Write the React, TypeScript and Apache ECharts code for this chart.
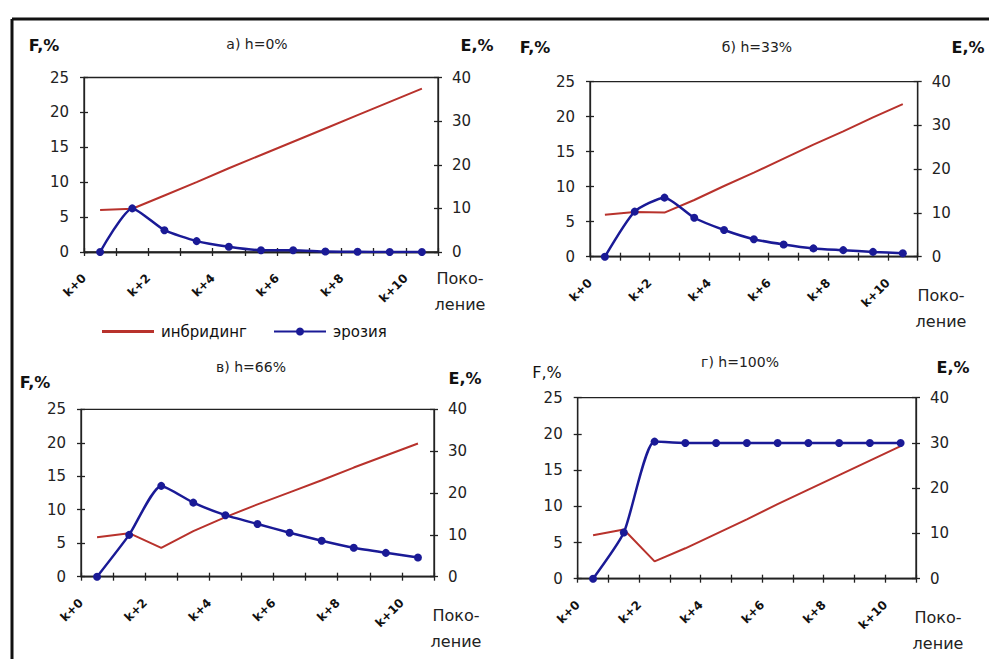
import React, { useEffect, useRef } from "react";
import * as echarts from "echarts";

// ---------- data ----------
const generations = ["k+0", "k+1", "k+2", "k+3", "k+4", "k+5", "k+6", "k+7", "k+8", "k+9", "k+10"];
const boundaryLabels = ["k+0", "", "k+2", "", "k+4", "", "k+6", "", "k+8", "", "k+10", ""];

const inbreedingA = [6.0, 6.2, 8.1, 10.0, 12.0, 13.9, 15.8, 17.7, 19.6, 21.5, 23.4];
const erosionA = [0, 10.0, 5.0, 2.5, 1.2, 0.4, 0.4, 0.1, 0.05, 0, 0];

const inbreedingB = [6.0, 6.4, 6.3, 8.1, 10.1, 12.0, 14.0, 16.0, 17.9, 19.9, 21.8];
const erosionB = [0, 10.3, 13.5, 8.9, 6.1, 4.0, 2.8, 1.9, 1.5, 1.1, 0.8];

const inbreedingC = [5.9, 6.5, 4.3, 6.8, 8.9, 10.8, 12.6, 14.4, 16.3, 18.1, 19.9];
const erosionC = [0, 10.0, 21.7, 17.7, 14.7, 12.6, 10.5, 8.6, 6.9, 5.7, 4.6];

const inbreedingD = [6.0, 6.8, 2.4, 4.2, 6.2, 8.2, 10.3, 12.3, 14.3, 16.3, 18.3];
const erosionD = [0, 10.2, 30.3, 30.0, 30.0, 30.0, 30.0, 30.0, 30.0, 30.0, 30.0];

const titles = ["а) h=0%", "б) h=33%", "в) h=66%", "г) h=100%"];
const seriesNames = ["инбридинг", "эрозия"];
const fTicks = { min: 0, max: 25, interval: 5 };
const eTicks = { min: 0, max: 40, interval: 10 };

// ---------- layout ----------
const panels = [
  { f: inbreedingA, e: erosionA, title: titles[0], grid: { left: 84, top: 77.5, width: 354, height: 174.5 },
    fLab: [44, 45], eLab: [477, 45], tLab: [257, 44], gen: [460, 278], fBold: true },
  { f: inbreedingB, e: erosionB, title: titles[1], grid: { left: 590, top: 81.7, width: 327.7, height: 175 },
    fLab: [535, 47], eLab: [968, 47], tLab: [757, 47], gen: [941, 295], fBold: true },
  { f: inbreedingC, e: erosionC, title: titles[2], grid: { left: 81, top: 409.3, width: 353, height: 167.4 },
    fLab: [35, 382], eLab: [465, 378], tLab: [251, 367], gen: [456, 615], fBold: true },
  { f: inbreedingD, e: erosionD, title: titles[3], grid: { left: 577.7, top: 397.7, width: 338.3, height: 181 },
    fLab: [547, 372], eLab: [953, 367], tLab: [740, 362], gen: [938, 617], fBold: false },
];

const RED = "#b8322c";
const BLUE = "#1a1a96";
const AXIS = "#222";
const FONT = "DejaVu Sans, Verdana, sans-serif";

export default function App() {
  const ref = useRef<HTMLDivElement>(null);

  useEffect(() => {
    if (!ref.current) return;
    const chart = echarts.init(ref.current, undefined, { renderer: "svg" });

    const grid: any[] = [];
    const xAxis: any[] = [];
    const yAxis: any[] = [];
    const series: any[] = [];
    const graphic: any[] = [];

    const lineStyle = { color: AXIS, width: 1.3 };

    panels.forEach((p, i) => {
      grid.push({ ...p.grid, show: true, borderColor: AXIS, borderWidth: 1.3, backgroundColor: "#fff", containLabel: false });

      // data axis (categories centred between ticks), inner ticks
      xAxis.push({
        type: "category", gridIndex: i, data: generations, boundaryGap: true, position: "bottom",
        axisLine: { show: true, onZero: false, lineStyle },
        axisTick: { show: true, inside: true, length: 4, interval: 0, lineStyle },
        axisLabel: { show: false }, splitLine: { show: false },
      });
      // label axis at category boundaries, outer ticks
      xAxis.push({
        type: "category", gridIndex: i, data: boundaryLabels, boundaryGap: false, position: "bottom",
        axisLine: { show: true, onZero: false, lineStyle },
        axisTick: { show: true, inside: false, length: 4, interval: 0, lineStyle },
        axisLabel: { show: true, interval: 0, rotate: 45, margin: 24, fontSize: 12, fontWeight: "bold", color: "#111", fontFamily: FONT },
        splitLine: { show: false },
      });

      const yCommon = { type: "value", gridIndex: i, splitLine: { show: false } };
      yAxis.push({
        ...yCommon, ...fTicks, position: "left",
        axisLine: { show: true, lineStyle },
        axisTick: { show: true, inside: false, length: 4, lineStyle },
        axisLabel: { show: true, margin: 15, fontSize: 15, color: "#222", fontFamily: FONT },
      });
      yAxis.push({
        ...yCommon, ...eTicks, position: "right",
        axisLine: { show: true, lineStyle },
        axisTick: { show: true, inside: false, length: 4, lineStyle },
        axisLabel: { show: true, margin: 14, fontSize: 15, color: "#222", fontFamily: FONT },
      });
      yAxis.push({
        ...yCommon, ...fTicks, position: "left",
        axisLine: { show: false },
        axisTick: { show: true, inside: true, length: 4, lineStyle },
        axisLabel: { show: false },
      });
      yAxis.push({
        ...yCommon, ...eTicks, position: "right",
        axisLine: { show: false },
        axisTick: { show: true, inside: true, length: 4, lineStyle },
        axisLabel: { show: false },
      });

      series.push({
        type: "line", name: seriesNames[0], xAxisIndex: 2 * i, yAxisIndex: 4 * i, data: p.f,
        symbol: "none", showSymbol: false, lineStyle: { color: RED, width: 2 }, itemStyle: { color: RED },
        z: 3,
      });
      series.push({
        type: "line", name: seriesNames[1], xAxisIndex: 2 * i, yAxisIndex: 4 * i + 1, data: p.e,
        symbol: "circle", symbolSize: 8, smooth: 0.2,
        lineStyle: { color: BLUE, width: 2.5 }, itemStyle: { color: BLUE }, z: 4,
      });

      graphic.push({
        type: "text", x: p.fLab[0], y: p.fLab[1],
        style: { text: "F,%", fontSize: 16, fontWeight: p.fBold ? "bold" : "normal", fill: "#111", fontFamily: FONT, align: "center", verticalAlign: "middle" },
      });
      graphic.push({
        type: "text", x: p.eLab[0], y: p.eLab[1],
        style: { text: "E,%", fontSize: 16, fontWeight: "bold", fill: "#111", fontFamily: FONT, align: "center", verticalAlign: "middle" },
      });
      graphic.push({
        type: "text", x: p.tLab[0], y: p.tLab[1],
        style: { text: p.title, fontSize: 14, fill: "#222", fontFamily: FONT, align: "center", verticalAlign: "middle" },
      });
      graphic.push({
        type: "text", x: p.gen[0], y: p.gen[1] - 13,
        style: { text: "Поко-\nление", fontSize: 16, lineHeight: 26, fill: "#222", fontFamily: FONT, align: "center", verticalAlign: "top" },
      });
    });

    // outer frame
    graphic.push({ type: "line", shape: { x1: 12, y1: 19, x2: 989, y2: 19 }, style: { stroke: "#111", lineWidth: 3 } });
    graphic.push({ type: "line", shape: { x1: 12, y1: 19, x2: 12, y2: 659 }, style: { stroke: "#111", lineWidth: 3 } });

    chart.setOption({
      animation: false,
      backgroundColor: "#fff",
      textStyle: { fontFamily: FONT },
      grid, xAxis, yAxis, series, graphic,
      legend: [
        {
          data: [{ name: seriesNames[0], icon: "rect" }], left: 97, top: 319, itemWidth: 52, itemHeight: 3, itemGap: 6,
          textStyle: { fontSize: 15, color: "#111", fontFamily: FONT, padding: [0, 0, 0, 2] },
        },
        {
          data: [seriesNames[1]], left: 268, top: 319, itemWidth: 52, itemHeight: 10, itemGap: 6,
          textStyle: { fontSize: 15, color: "#111", fontFamily: FONT, padding: [0, 0, 0, 2] },
        },
      ],
    });

    return () => chart.dispose();
  }, []);

  return <div ref={ref} style={{ position: "absolute", left: 0, top: 0, width: 989, height: 659 }} />;
}
